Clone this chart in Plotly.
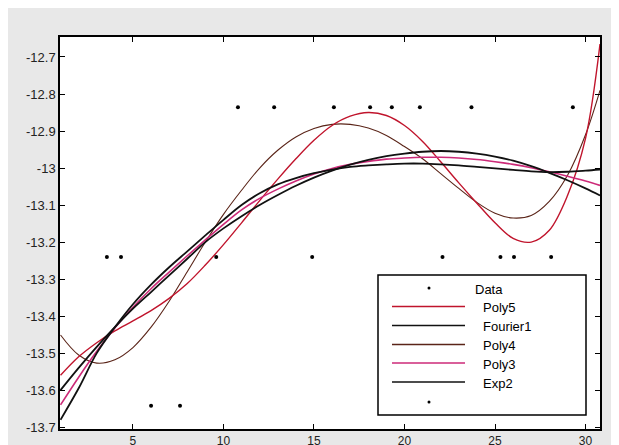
import plotly.graph_objects as go

# ---------------- data ----------------
x_fit = [1, 2, 3, 4, 5, 6, 7, 8, 9, 10, 11, 12, 13, 14, 15, 16, 17, 18, 19, 20,
         21, 22, 23, 24, 25, 26, 27, 28, 29, 30, 30.8]

poly5 = [-13.56, -13.51, -13.472, -13.44, -13.413, -13.385, -13.352, -13.312, -13.262, -13.207,
         -13.148, -13.088, -13.03, -12.975, -12.925, -12.885, -12.86, -12.85, -12.858, -12.885,
         -12.928, -12.983, -13.04, -13.095, -13.148, -13.19, -13.2, -13.168, -13.075, -12.92, -12.665]

fourier1 = [-13.68, -13.595, -13.5, -13.43, -13.368, -13.315, -13.268, -13.225, -13.182, -13.14,
            -13.1, -13.068, -13.044, -13.027, -13.014, -13.004, -12.997, -12.993, -12.99, -12.988,
            -12.988, -12.99, -12.993, -12.997, -13.001, -13.005, -13.009, -13.011, -13.01, -13.007, -13.004]

poly4 = [-13.451, -13.505, -13.527, -13.518, -13.485, -13.43, -13.36, -13.28, -13.2, -13.125,
         -13.06, -13.0, -12.952, -12.916, -12.893, -12.882, -12.882, -12.892, -12.912, -12.942,
         -12.975, -13.015, -13.055, -13.093, -13.122, -13.135, -13.128, -13.09, -13.02, -12.91, -12.79]

poly3 = [-13.64, -13.565, -13.495, -13.432, -13.376, -13.326, -13.281, -13.237, -13.194, -13.152,
         -13.113, -13.082, -13.057, -13.035, -13.016, -13.001, -12.99, -12.982, -12.976, -12.973,
         -12.971, -12.971, -12.973, -12.977, -12.983, -12.99, -12.999, -13.01, -13.022, -13.035, -13.047]

exp2 = [-13.6, -13.54, -13.483, -13.43, -13.38, -13.335, -13.29, -13.245, -13.2, -13.163,
        -13.13, -13.1, -13.073, -13.048, -13.026, -13.007, -12.991, -12.978, -12.968, -12.961,
        -12.956, -12.954, -12.956, -12.961, -12.969, -12.98, -12.995, -13.013, -13.033, -13.055, -13.074]

data_x = [3.56, 4.34, 6.0, 7.6, 9.6, 10.8, 12.8, 14.9, 16.1, 18.1, 19.3, 20.85,
          22.1, 23.7, 25.3, 26.05, 28.1, 29.3]
data_y = [-13.24, -13.24, -13.642, -13.642, -13.24, -12.836, -12.836, -13.24, -12.836, -12.836,
          -12.836, -12.836, -13.24, -12.836, -13.24, -13.24, -13.24, -12.836]

x_ticks = [5, 10, 15, 20, 25, 30]
y_ticks = [-12.7, -12.8, -12.9, -13.0, -13.1, -13.2, -13.3, -13.4, -13.5, -13.6, -13.7]
y_tick_text = ["-12.7", "-12.8", "-12.9", "-13", "-13.1", "-13.2", "-13.3", "-13.4", "-13.5", "-13.6", "-13.7"]

legend_names = ["Data", "Poly5", "Fourier1", "Poly4", "Poly3", "Exp2"]

# ---------------- styles ----------------
C_POLY5 = "#c0142c"
C_FOUR = "#111111"
C_POLY4 = "#5a2418"
C_POLY3 = "#cc2a78"
C_EXP2 = "#111111"
FONT = "Liberation Sans, Arial, sans-serif"

# the page body keeps its default 8px margin, so the figure starts at (8, 8)
OFF = 8
W, H = 619 - OFF, 445 - OFF
ML, MR, MT, MB = 60 - OFF, 19, 37 - OFF, 16
PW, PH = W - ML - MR, H - MT - MB


def fx(px):  # page pixel -> paper fraction
    return (px - OFF - ML) / PW


def fy(py):
    return (H - MB - (py - OFF)) / PH


fig = go.Figure()
curves = [
    (poly4, C_POLY4, 1.1),
    (poly5, C_POLY5, 1.4),
    (poly3, C_POLY3, 1.6),
    (exp2, C_EXP2, 1.8),
    (fourier1, C_FOUR, 1.8),
]
for ys, col, w in curves:
    fig.add_trace(go.Scatter(x=x_fit, y=ys, mode="lines", showlegend=False,
                             line=dict(color=col, width=w, shape="spline", smoothing=1.0),
                             hoverinfo="skip"))

fig.add_trace(go.Scatter(x=data_x, y=data_y, mode="markers", showlegend=False,
                         marker=dict(color="black", size=4)))

# ---------------- MATLAB-style legend ----------------
shapes = [dict(type="rect", xref="paper", yref="paper",
               x0=fx(378), x1=fx(586), y0=fy(415), y1=fy(275),
               line=dict(color="black", width=1.5), fillcolor="white", layer="above")]
annotations = []
row_y = [288, 306.5, 325.5, 344.5, 363, 382]
line_cols = [None, C_POLY5, C_FOUR, C_POLY4, C_POLY3, C_EXP2]
for i, name in enumerate(legend_names):
    yy = row_y[i]
    if line_cols[i] is None:
        shapes.append(dict(type="circle", xref="paper", yref="paper",
                           x0=fx(427.5), x1=fx(430.5), y0=fy(yy + 1.5), y1=fy(yy - 1.5),
                           fillcolor="black", line=dict(color="black", width=0), layer="above"))
        tx = 473
    else:
        shapes.append(dict(type="line", xref="paper", yref="paper",
                           x0=fx(392), x1=fx(465), y0=fy(yy), y1=fy(yy),
                           line=dict(color=line_cols[i], width=1.6), layer="above"))
        tx = 481
    annotations.append(dict(xref="paper", yref="paper", x=fx(tx), y=fy(yy + 1),
                            text=name, showarrow=False, xanchor="left", yanchor="middle",
                            font=dict(family=FONT, size=13, color="black")))
shapes.append(dict(type="circle", xref="paper", yref="paper",
                   x0=fx(427.5), x1=fx(430.5), y0=fy(403.5), y1=fy(400.5),
                   fillcolor="black", line=dict(color="black", width=0), layer="above"))

axis_common = dict(showgrid=False, zeroline=False, showline=True, linecolor="black",
                   linewidth=1.5, mirror="ticks", ticks="inside", ticklen=5, tickwidth=1.2,
                   tickcolor="black", automargin=False)

fig.update_layout(
    width=W, height=H, autosize=False,
    margin=dict(l=ML, r=MR, t=MT, b=MB),
    paper_bgcolor="#e8e8e8", plot_bgcolor="white",
    xaxis=dict(range=[0.97, 30.8], tickvals=x_ticks, ticktext=[str(v) for v in x_ticks],
               tickfont=dict(family=FONT, size=12, color="#222222"), **axis_common),
    yaxis=dict(range=[-13.705, -12.646], tickvals=y_ticks, ticktext=y_tick_text,
               tickfont=dict(family=FONT, size=13, color="#222222"), **axis_common),
    shapes=shapes, annotations=annotations, showlegend=False,
)

fig.write_html("out.html")
